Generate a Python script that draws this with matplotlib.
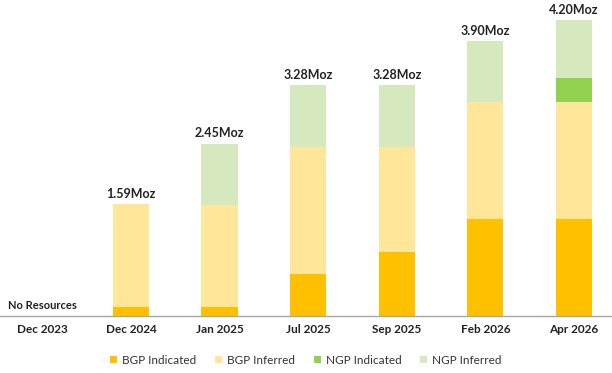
import matplotlib.pyplot as plt
import numpy as np

plt.rcParams['font.family'] = ['Lato', 'DejaVu Sans']

periods = ['Dec 2023', 'Dec 2024', 'Jan 2025', 'Jul 2025', 'Sep 2025', 'Feb 2026', 'Apr 2026']
bgp_ind = [0.0, 0.13, 0.13, 0.60, 0.91, 1.38, 1.38]
bgp_inf = [0.0, 1.46, 1.45, 1.80, 1.49, 1.66, 1.66]
ngp_ind = [0.0, 0.0, 0.0, 0.0, 0.0, 0.0, 0.34]
ngp_inf = [0.0, 0.0, 0.87, 0.88, 0.88, 0.86, 0.82]
totals = ['', '1.59Moz', '2.45Moz', '3.28Moz', '3.28Moz', '3.90Moz', '4.20Moz']

series = [('BGP Indicated', bgp_ind, '#FFC000'),
          ('BGP Inferred', bgp_inf, '#FFE699'),
          ('NGP Indicated', ngp_ind, '#92D050'),
          ('NGP Inferred', ngp_inf, '#D5E8BE')]

fig = plt.figure(figsize=(6.12, 3.73), dpi=100)
ax = fig.add_axes([0, 57/373, 1, 316/373])

x = np.arange(len(periods))
bottom = np.zeros(len(periods))
for name, vals, col in series:
    ax.bar(x, vals, 0.41, bottom=bottom, color=col, label=name)
    bottom += np.array(vals)

# totals above each bar
for i, t in enumerate(totals):
    if t:
        ax.text(x[i], bottom[i] + 0.06, t, ha='center', va='bottom',
                fontsize=9, fontweight='bold', color='#222222')
ax.text(x[0], 0.07, 'No Resources', ha='center', va='bottom',
        fontsize=8, fontweight='bold', color='#222222')

ax.set_xlim(-0.479, 6.43)
ax.set_ylim(0, 316/70.4)
ax.set_xticks(x)
ax.set_xticklabels(periods, fontsize=8.5, fontweight='bold', color='#222222')
ax.tick_params(axis='x', length=0, pad=6)
ax.set_yticks([])
for s in ['top', 'right', 'left']:
    ax.spines[s].set_visible(False)
ax.spines['bottom'].set_color('#A6A6A6')
ax.spines['bottom'].set_linewidth(1.0)

fig.legend(loc='center', bbox_to_anchor=(0.5, 13/373), ncol=4, frameon=False,
           fontsize=8.5, handlelength=0.6, handleheight=0.6, handletextpad=0.4,
           columnspacing=1.6, labelcolor='#333333')

fig.savefig('out.png', dpi=100)
